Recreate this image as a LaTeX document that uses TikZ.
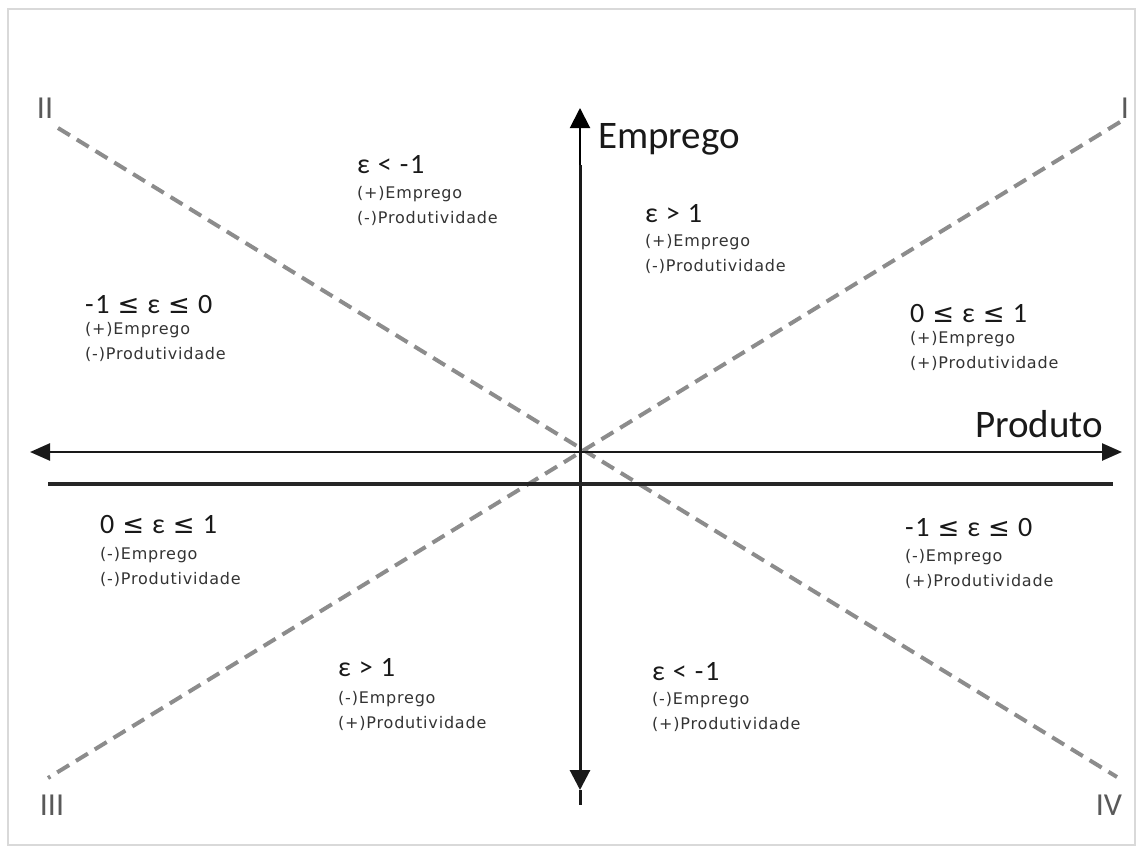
\documentclass[tikz,border=0pt]{standalone}
\usepackage{fontspec}
\setmainfont{Carlito}
\newfontfamily\formfam[LetterSpace=6]{Carlito}
\newfontfamily\notefam[LetterSpace=5]{DejaVu Sans}
\newfontfamily\symfam{DejaVu Sans}
\usetikzlibrary{arrows.meta, positioning}

\newcommand{\leqsym}{{\symfam\fontsize{26}{30}\selectfont ≤}}

\begin{document}
\begin{tikzpicture}[x=1pt, y=-1pt,
  axis/.style={line width=3pt, black!90},
  diag/.style={line width=4pt, black!45, dash pattern=on 14pt off 8pt},
  tip/.style={-{Triangle[length=20pt, width=20pt]}},
  form/.style={anchor=base west, inner sep=0pt, text=black!90,
    font=\formfam\fontsize{28}{32}\selectfont},
  note/.style={anchor=north west, inner sep=0pt, align=left, text=black!80,
    font=\notefam\fontsize{16}{25}\selectfont},
  roman/.style={anchor=base, inner sep=0pt, text=black!65,
    font=\fontsize{32}{36}\selectfont},
  axlabel/.style={anchor=base west, inner sep=0pt, text=black!90,
    font=\fontsize{39}{42}\selectfont},
]
  \useasboundingbox (0,0) rectangle (1143,854);
  \draw[black!15, line width=2pt] (8,9) rectangle (1135,845);

  \coordinate (O) at (580,452);
  \coordinate (Ntop) at (580,108);
  \coordinate (Nmid) at (580,165);
  \coordinate (Stip) at (580,790);
  \coordinate (Send) at (580,805);
  \coordinate (W) at (30,452);
  \coordinate (E) at (1122,452);
  \coordinate (LW) at (48,484);
  \coordinate (LE) at (1113,484);
  \coordinate (dII) at (58,128);
  \coordinate (dIV) at (1117,777);
  \coordinate (dI) at (1120,122);
  \coordinate (dIII) at (48,778);

  % diagonais
  \draw[diag] (dII) -- (dIV);
  \draw[diag] (dI) -- (dIII);

  % eixos
  \draw[line width=2pt, tip] (Nmid) -- (Ntop);
  \draw[axis, tip] (Nmid) -- (Stip);
  \draw[axis] (Stip) -- (Send);
  \draw[line width=2.5pt, black!90,
    {Triangle[length=20pt, width=17pt]}-{Triangle[length=20pt, width=17pt]}] (W) -- (E);
  \draw[line width=3.5pt, black!85] (LW) -- (LE);

  \node[axlabel] (emp) at (598,148) {Emprego};
  \node[axlabel] (prod) at (975,437) {Produto};

  \node[roman] (rI) at (1125,118) {I};
  \node[roman] (rII) at (45,118) {II};
  \node[roman] (rIII) at (52,815) {III};
  \node[roman] (rIV) at (1109,815) {IV};

  % regioes
  \node[form] (f1) at (357,173) {ε < -1};
  \node[note] (n1) at (357,186) {(+)Emprego\\(-)Produtividade};
  \node[form] (f2) at (645,222) {ε > 1};
  \node[note] (n2) at (645,234) {(+)Emprego\\(-)Produtividade};
  \node[form] (f3) at (85,313) {-1 \leqsym{} ε \leqsym{} 0};
  \node[note] (n3) at (85,322) {(+)Emprego\\(-)Produtividade};
  \node[form] (f4) at (910,322) {0 \leqsym{} ε \leqsym{} 1};
  \node[note] (n4) at (910,331) {(+)Emprego\\(+)Produtividade};
  \node[form] (f5) at (100,533) {0 \leqsym{} ε \leqsym{} 1};
  \node[note] (n5) at (100,547) {(-)Emprego\\(-)Produtividade};
  \node[form] (f6) at (905,536) {-1 \leqsym{} ε \leqsym{} 0};
  \node[note] (n6) at (905,549) {(-)Emprego\\(+)Produtividade};
  \node[form] (f7) at (338,676) {ε > 1};
  \node[note] (n7) at (338,691) {(-)Emprego\\(+)Produtividade};
  \node[form] (f8) at (652,680) {ε < -1};
  \node[note] (n8) at (652,692) {(-)Emprego\\(+)Produtividade};
\end{tikzpicture}
\end{document}
